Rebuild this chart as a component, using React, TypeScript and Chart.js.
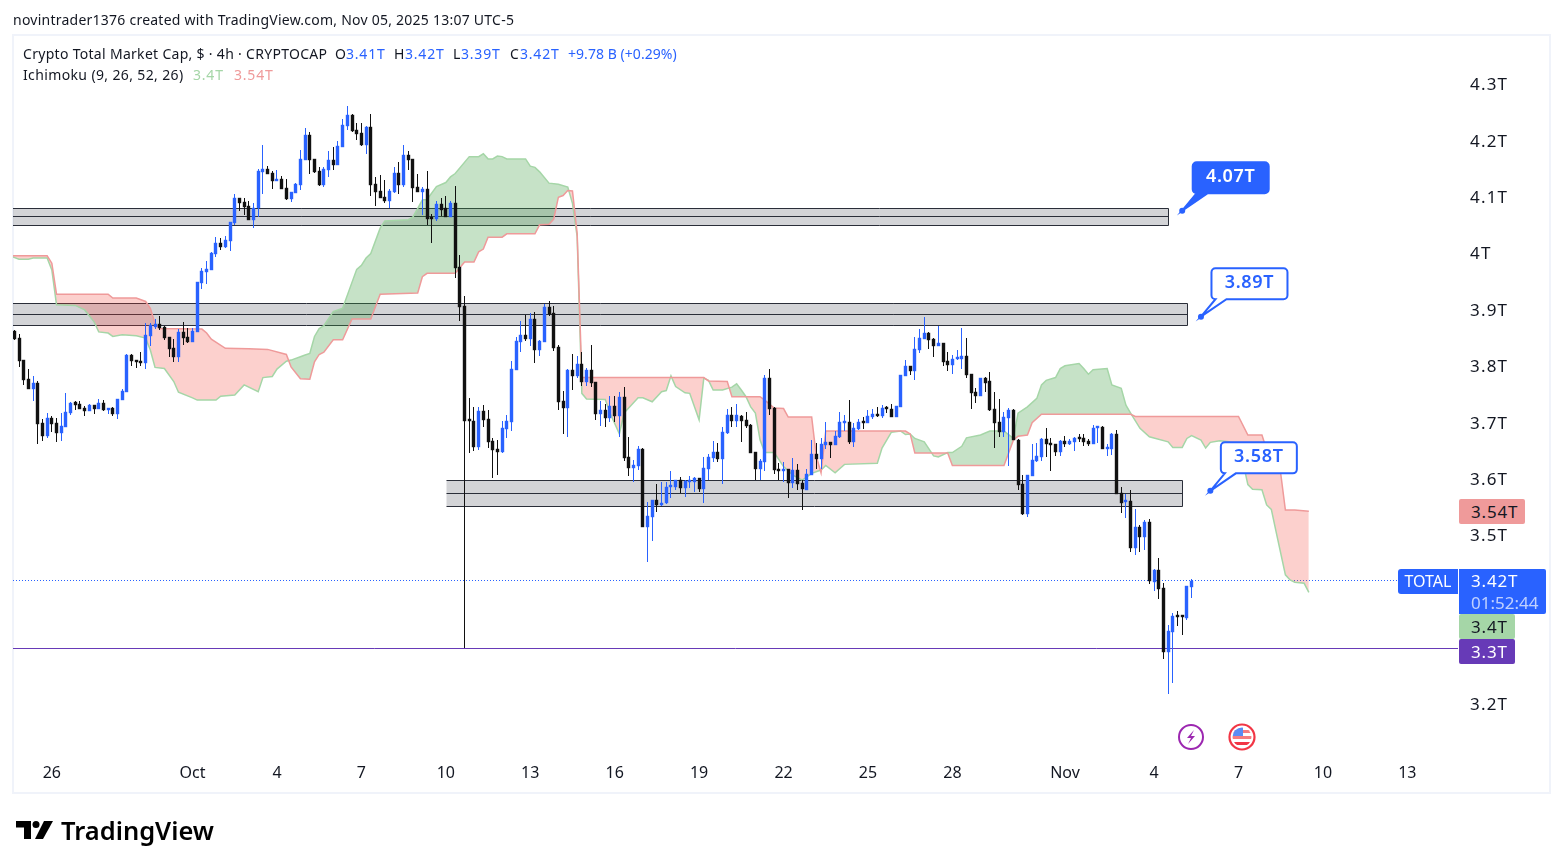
import React, { useEffect, useRef } from 'react';
import { Chart, registerables } from 'chart.js';

Chart.register(...registerables);

// 4h candles, values in billions
const candleOpen = [
  3862,3850,3811,3778,3760,3770,3699,3676,3708,3699,
  3682,3693,3718,3736,3733,3726,3721,3731,3724,3735,
  3723,3726,3715,3740,3754,3820,3811,3809,3806,3854,
  3870,3875,3870,3852,3833,3817,3861,3852,3843,3861,
  3948,3967,3971,3999,4019,4012,4022,4054,4099,4092,
  4084,4060,4081,4145,4150,4143,4129,4132,4116,4097,
  4107,4122,4166,4210,4168,4147,4122,4148,4166,4157,
  4189,4226,4246,4219,4214,4193,4225,4123,4111,4100,
  4093,4109,4143,4122,4175,4168,4118,4109,4115,4063,
  4061,4088,4080,4065,4090,3976,3907,3705,3703,3657,
  3721,3707,3668,3653,3648,3689,3701,3793,3843,3856,
  3848,3884,3829,3843,3905,3895,3834,3739,3726,3793,
  3783,3804,3772,3793,3772,3715,3723,3708,3730,3712,
  3746,3639,3620,3623,3653,3515,3533,3563,3554,3557,
  3586,3586,3598,3584,3595,3595,3602,3582,3618,3637,
  3648,3636,3682,3714,3703,3712,3705,3696,3648,3618,
  3630,3779,3726,3618,3614,3618,3593,3616,3593,3581,
  3607,3645,3636,3660,3666,3660,3675,3700,3701,3666,
  3689,3701,3700,3710,3715,3712,3726,3724,3710,3728,
  3783,3801,3792,3829,3848,3859,3848,3836,3841,3809,
  3802,3813,3813,3818,3786,3755,3747,3779,3774,3724,
  3701,3683,3708,3723,3669,3591,3538,3605,3632,3639,
  3671,3664,3662,3648,3668,3662,3666,3673,3673,3668,
  3662,3691,3692,3653,3653,3680,3575,3559,3561,3478,
  3515,3497,3524,3417,3439,3407,3293,3329,3357,3357,
  3354,3409,
];
const candleHigh = [
  3865,3857,3812,3795,3783,3774,3707,3718,3712,3708,
  3717,3753,3737,3738,3738,3730,3733,3731,3742,3740,
  3726,3728,3742,3760,3821,3822,3812,3825,3876,3876,
  3884,3889,3872,3852,3848,3866,3879,3868,3868,3950,
  3975,3987,4003,4029,4028,4031,4056,4106,4099,4099,
  4093,4090,4150,4193,4155,4147,4148,4138,4132,4109,
  4125,4184,4223,4216,4168,4154,4154,4182,4189,4200,
  4239,4262,4248,4232,4232,4226,4248,4136,4139,4131,
  4115,4154,4162,4193,4182,4168,4141,4118,4147,4071,
  4093,4099,4102,4093,4120,3997,3925,3743,3728,3728,
  3731,3723,3673,3669,3703,3714,3809,3852,3880,3891,
  3895,3896,3847,3911,3916,3907,3838,3756,3795,3822,
  3818,3825,3797,3838,3772,3739,3733,3747,3747,3755,
  3763,3675,3634,3659,3655,3559,3563,3591,3595,3595,
  3614,3598,3604,3598,3605,3604,3602,3639,3644,3668,
  3664,3692,3724,3728,3733,3714,3719,3698,3648,3636,
  3785,3795,3727,3629,3630,3618,3637,3627,3598,3618,
  3669,3664,3673,3701,3666,3685,3719,3714,3740,3700,
  3707,3710,3723,3724,3728,3731,3730,3733,3730,3785,
  3811,3801,3852,3866,3888,3861,3850,3872,3841,3825,
  3820,3829,3868,3850,3786,3762,3779,3781,3790,3755,
  3742,3719,3726,3724,3671,3607,3607,3662,3664,3673,
  3691,3673,3662,3669,3676,3671,3675,3680,3680,3671,
  3696,3694,3694,3662,3682,3687,3586,3574,3581,3547,
  3519,3527,3529,3440,3460,3416,3341,3362,3366,3357,
  3410,3423,
];
const candleLow = [
  3847,3798,3767,3760,3739,3663,3668,3673,3684,3665,
  3668,3693,3714,3723,3724,3711,3720,3715,3724,3720,
  3715,3712,3707,3740,3754,3801,3797,3801,3795,3836,
  3867,3864,3847,3817,3808,3808,3838,3841,3843,3861,
  3937,3946,3971,3994,4006,4010,4005,4051,4076,4068,
  4060,4045,4065,4106,4141,4115,4129,4115,4095,4092,
  4107,4113,4166,4141,4143,4120,4118,4136,4148,4157,
  4189,4219,4216,4201,4191,4177,4102,4084,4099,4090,
  4081,4107,4106,4118,4148,4092,4109,4068,4051,4019,
  4058,4067,4065,4065,3957,3880,3300,3647,3650,3652,
  3692,3655,3602,3607,3646,3673,3685,3793,3825,3845,
  3836,3806,3818,3843,3889,3827,3723,3680,3675,3758,
  3779,3765,3765,3763,3705,3694,3692,3701,3701,3675,
  3632,3605,3595,3616,3515,3453,3490,3542,3552,3556,
  3566,3581,3575,3568,3584,3577,3577,3558,3598,3630,
  3630,3591,3680,3692,3692,3666,3691,3646,3598,3598,
  3614,3714,3609,3598,3595,3566,3584,3581,3545,3581,
  3607,3618,3618,3653,3637,3660,3673,3685,3662,3657,
  3687,3689,3700,3707,3710,3708,3717,3710,3710,3728,
  3783,3785,3776,3824,3848,3831,3817,3836,3801,3792,
  3786,3811,3795,3779,3724,3735,3747,3755,3721,3655,
  3675,3675,3623,3669,3581,3536,3533,3605,3630,3632,
  3639,3614,3641,3641,3657,3660,3650,3666,3659,3659,
  3662,3664,3653,3641,3643,3574,3540,3531,3471,3465,
  3471,3474,3414,3401,3387,3281,3219,3238,3339,3323,
  3350,3389,
];
const candleClose = [
  3849,3810,3776,3760,3770,3698,3676,3708,3698,3682,
  3694,3719,3734,3731,3724,3721,3731,3724,3734,3723,
  3726,3715,3742,3756,3820,3809,3808,3805,3856,3873,
  3875,3868,3850,3831,3817,3861,3850,3843,3863,3950,
  3969,3973,4001,4019,4012,4024,4056,4099,4090,4083,
  4060,4081,4147,4150,4141,4129,4132,4115,4097,4109,
  4123,4168,4210,4166,4145,4122,4150,4166,4157,4191,
  4228,4246,4217,4212,4193,4225,4122,4109,4099,4093,
  4111,4143,4122,4175,4166,4116,4109,4115,4061,4061,
  4088,4077,4065,4090,3974,3905,3703,3703,3657,3721,
  3705,3666,3652,3648,3691,3703,3795,3845,3856,3848,
  3884,3829,3845,3905,3893,3833,3737,3726,3793,3783,
  3804,3772,3793,3770,3715,3723,3708,3730,3712,3746,
  3637,3620,3625,3653,3515,3535,3563,3554,3558,3586,
  3588,3598,3584,3597,3598,3602,3582,3620,3639,3648,
  3636,3683,3714,3703,3714,3703,3694,3646,3618,3632,
  3779,3724,3616,3614,3618,3593,3616,3591,3582,3609,
  3645,3636,3662,3666,3660,3676,3701,3701,3666,3691,
  3701,3700,3712,3715,3712,3726,3724,3710,3730,3785,
  3801,3792,3831,3850,3859,3847,3836,3841,3808,3802,
  3813,3815,3818,3785,3753,3747,3779,3770,3723,3700,
  3683,3710,3723,3669,3589,3538,3607,3634,3641,3671,
  3662,3660,3648,3668,3662,3668,3673,3671,3666,3662,
  3691,3692,3653,3655,3680,3574,3558,3561,3478,3515,
  3497,3524,3419,3439,3405,3293,3331,3357,3356,3355,
  3410,3419,
];

// Ichimoku cloud turning points: [bar number, value]
const leadingSpanA = [
  [0,3996],[2,3990],[4,3990],[5,3992],[8,3992],[9,3971],[10,3909],[14,3908],[16,3900],[18,3879],
  [19,3861],[21,3859],[22,3853],[24,3856],[27,3854],[29,3850],[30,3829],[31,3798],[33,3796],[35,3773],
  [36,3754],[39,3744],[40,3740],[44,3740],[45,3747],[48,3749],[50,3767],[53,3755],[54,3780],[56,3782],
  [57,3795],[59,3809],[60,3811],[62,3817],[63,3820],[64,3823],[65,3853],[66,3867],[67,3872],[69,3897],
  [71,3903],[74,3972],[75,3979],[76,3992],[77,4000],[79,4045],[80,4058],[85,4060],[86,4065],[88,4095],
  [89,4096],[91,4119],[93,4126],[94,4136],[95,4142],[98,4172],[100,4172],[101,4177],[102,4168],[103,4168],
  [104,4173],[105,4172],[106,4168],[110,4168],[111,4155],[112,4153],[113,4145],[115,4125],[117,4123],[119,4118],
  [120,4089],[121,4030],[122,3752],[123,3742],[127,3741],[128,3717],[130,3680],[131,3717],[134,3744],[135,3744],
  [137,3737],[139,3755],[140,3757],[141,3783],[142,3764],[144,3753],[145,3752],[147,3705],[148,3779],[149,3775],
  [150,3758],[152,3758],[154,3763],[155,3769],[156,3758],[157,3746],[158,3728],[159,3717],[160,3669],[161,3647],
  [163,3647],[165,3622],[167,3607],[169,3598],[171,3610],[173,3616],[174,3624],[176,3611],[178,3626],[185,3628],
  [186,3655],[188,3683],[190,3685],[191,3679],[192,3680],[193,3672],[195,3666],[197,3641],[198,3639],[200,3647],
  [201,3647],[203,3658],[204,3673],[207,3678],[209,3685],[212,3685],[214,3672],[215,3717],[217,3728],[219,3743],
  [220,3767],[221,3775],[223,3780],[224,3796],[225,3801],[228,3805],[229,3796],[230,3786],[231,3794],[234,3796],
  [235,3767],[237,3761],[238,3731],[239,3717],[241,3690],[243,3675],[247,3666],[248,3656],[250,3656],[251,3672],
  [252,3677],[254,3669],[255,3655],[256,3665],[258,3668],[260,3666],[262,3652],[263,3628],[264,3590],[265,3582],
  [267,3581],[268,3554],[269,3546],[270,3507],[272,3430],[273,3421],[274,3417],[276,3415],[277,3399],
];
const leadingSpanB = [
  [0,3996],[8,3996],[9,3983],[10,3928],[21,3928],[22,3921],[27,3921],[29,3915],[30,3903],[31,3876],
  [32,3867],[41,3866],[42,3859],[43,3848],[46,3832],[51,3831],[55,3830],[59,3821],[60,3799],[62,3778],
  [64,3777],[65,3808],[66,3821],[67,3825],[69,3847],[71,3847],[73,3884],[77,3884],[79,3928],[87,3930],
  [88,3959],[89,3965],[95,3965],[97,3985],[99,3985],[100,4003],[101,4008],[102,4029],[105,4029],[106,4035],
  [112,4035],[113,4051],[115,4052],[116,4061],[117,4100],[118,4103],[119,4112],[120,4111],[121,4036],[122,3780],
  [148,3780],[149,3774],[153,3773],[154,3746],[160,3746],[161,3740],[163,3726],[165,3725],[166,3710],[171,3710],
  [172,3640],[173,3611],[174,3685],[191,3685],[192,3680],[193,3646],[200,3646],[201,3624],[212,3624],[214,3669],
  [215,3676],[217,3678],[218,3700],[220,3715],[239,3715],[240,3711],[262,3711],[264,3678],[267,3678],[268,3652],
  [271,3610],[272,3545],[274,3545],[277,3543],
];

// support / resistance boxes
const zoneTop = [4081, 3912, 3598];
const zoneMid = [4066, 3892, 3575];
const zoneBottom = [4050, 3873, 3552];
const zoneStart = [0.72, 0.72, 93];
const zoneEnd = [247, 251, 250];

const lastPrice = 3420;
const levelPrice = 3300;

const calloutLabels = ['4.07T', '3.89T', '3.58T'];
const calloutBar = [250, 254, 256];
const calloutValue = [4076, 3888, 3579];
const calloutFilled = [true, false, false];

const yTicks = [4300, 4200, 4100, 4000, 3900, 3800, 3700, 3600, 3500, 3400, 3300, 3200];
const xTickBars = [9, 39, 57, 75, 93, 111, 129, 147, 165, 183, 201, 225, 244, 262, 280, 298];
const xTickLabels = ['26', 'Oct', '4', '7', '10', '13', '16', '19', '22', '25', '28', 'Nov', '4', '7', '10', '13'];

const BLUE = '#2962ff';
const BLACK = '#111111';
const INK = '#131722';
const FONT = '"Noto Sans", sans-serif';

const candleBars = candleOpen.map((_, k) => k + 1);
const candleColor = candleOpen.map((o, k) => (candleClose[k] >= o ? BLUE : BLACK));

const snap = (v: number) => Math.round(v) + 0.5;

const drawingsPlugin = {
  id: 'drawings',
  beforeDraw(chart: any) {
    chart.ctx.letterSpacing = '0px';
  },
  afterDatasetsUpdate(chart: any) {
    // candles sit on whole pixels like in the original
    chart.data.datasets.forEach((ds: any, i: number) => {
      if (ds.type !== 'bar') return;
      chart.getDatasetMeta(i).data.forEach((el: any) => {
        el.x = Math.round(el.x - 0.5) + 0.5;
        el.y = Math.round(el.y);
        el.base = Math.round(el.base);
      });
    });
  },
  beforeDatasetsDraw(chart: any) {
    const { ctx, scales: { x, y }, chartArea } = chart;
    ctx.save();
    zoneTop.forEach((top, k) => {
      const left = zoneStart[k] < 1 ? chartArea.left : snap(x.getPixelForValue(zoneStart[k]));
      const right = snap(x.getPixelForValue(zoneEnd[k]));
      const t = snap(y.getPixelForValue(top));
      const m = snap(y.getPixelForValue(zoneMid[k]));
      const b = snap(y.getPixelForValue(zoneBottom[k]));
      ctx.fillStyle = 'rgba(120,123,134,0.33)';
      ctx.fillRect(left, t, right - left, b - t);
      ctx.strokeStyle = '#2a2e39';
      ctx.lineWidth = 1;
      ctx.beginPath();
      ctx.moveTo(left, t); ctx.lineTo(right, t);
      ctx.moveTo(left, m); ctx.lineTo(right, m);
      ctx.moveTo(left, b); ctx.lineTo(right, b);
      ctx.moveTo(right, t); ctx.lineTo(right, b);
      ctx.stroke();
    });
    const py = snap(y.getPixelForValue(lastPrice));
    ctx.strokeStyle = BLUE;
    ctx.setLineDash([1, 2]);
    ctx.beginPath();
    ctx.moveTo(chartArea.left, py); ctx.lineTo(chartArea.right, py);
    ctx.stroke();
    ctx.setLineDash([]);
    const ly = snap(y.getPixelForValue(levelPrice));
    ctx.strokeStyle = '#673ab7';
    ctx.beginPath();
    ctx.moveTo(chartArea.left, ly); ctx.lineTo(chartArea.right, ly);
    ctx.stroke();
    ctx.restore();
  },
  afterDatasetsDraw(chart: any) {
    const { ctx, scales: { x, y } } = chart;
    ctx.save();
    calloutLabels.forEach((label, k) => {
      const ax = x.getPixelForValue(calloutBar[k]);
      const ay = y.getPixelForValue(calloutValue[k]);
      const l = ax + 10.5, r = l + 76, t = ay - 48.5, b = t + 31, rad = 4;
      ctx.beginPath();
      ctx.moveTo(l + rad, t);
      ctx.arcTo(r, t, r, b, rad);
      ctx.arcTo(r, b, l, b, rad);
      ctx.lineTo(l + 15, b);
      ctx.lineTo(ax, ay);
      ctx.lineTo(l + 4, b);
      ctx.arcTo(l, b, l, t, rad);
      ctx.arcTo(l, t, r, t, rad);
      ctx.closePath();
      ctx.fillStyle = calloutFilled[k] ? BLUE : '#ffffff';
      ctx.strokeStyle = BLUE;
      ctx.lineWidth = 2;
      ctx.fill();
      ctx.stroke();
      ctx.beginPath();
      ctx.arc(ax, ay, 3, 0, Math.PI * 2);
      ctx.fillStyle = BLUE;
      ctx.fill();
      ctx.font = `600 18px ${FONT}`;
      ctx.letterSpacing = '0.7px';
      ctx.textAlign = 'center';
      ctx.textBaseline = 'middle';
      ctx.fillStyle = calloutFilled[k] ? '#ffffff' : BLUE;
      ctx.fillText(label, (l + r) / 2, t + 15);
    });
    ctx.restore();
    // price scale labels (ticks z: 1) are drawn after this hook and run a little wider
    ctx.letterSpacing = '1.2px';
  },
};

function Label({ x, y, color = INK, spacing = 0.3, children }: any) {
  return (
    <div style={{ position: 'absolute', left: x, top: y, color, fontSize: 14, letterSpacing: spacing, lineHeight: '20px', whiteSpace: 'nowrap' }}>
      {children}
    </div>
  );
}

function Tag({ x, y, w, h, bg, color = INK, text }: any) {
  return (
    <div style={{ position: 'absolute', left: x, top: y, width: w, height: h, background: bg, borderRadius: 2, color, fontSize: 17, letterSpacing: 0.8, lineHeight: `${h}px`, paddingLeft: 12, boxSizing: 'border-box', whiteSpace: 'nowrap' }}>
      {text}
    </div>
  );
}

export default function App() {
  const canvasRef = useRef<HTMLCanvasElement>(null);

  useEffect(() => {
    document.body.style.margin = '0';
    document.body.style.overflow = 'hidden';
    const ctx = canvasRef.current?.getContext('2d');
    if (!ctx) return;

    const chart = new Chart(ctx, {
      type: 'bar',
      plugins: [drawingsPlugin],
      data: {
        datasets: [
          {
            type: 'line',
            label: 'Leading Span A',
            data: leadingSpanA.map(([bar, v]) => ({ x: bar, y: v })),
            borderColor: '#a5d6a7',
            borderWidth: 1.5,
            pointRadius: 0,
            fill: { target: 1, above: 'rgba(67,160,71,0.3)', below: 'rgba(244,67,54,0.25)' },
            order: 6,
          },
          {
            type: 'line',
            label: 'Leading Span B',
            data: leadingSpanB.map(([bar, v]) => ({ x: bar, y: v })),
            borderColor: '#ef9a9a',
            borderWidth: 1.5,
            pointRadius: 0,
            fill: false,
            order: 5,
          },
          {
            type: 'bar',
            label: 'Wicks',
            data: candleBars.map((bar, k) => ({ x: bar, y: [candleLow[k], candleHigh[k]] })),
            backgroundColor: candleColor,
            barThickness: 1,
            inflateAmount: 0,
            grouped: false,
            order: 2,
          },
          {
            type: 'bar',
            label: 'Bodies',
            data: candleBars.map((bar, k) => ({ x: bar, y: [candleOpen[k], candleClose[k]] })),
            backgroundColor: candleColor,
            barThickness: 3,
            inflateAmount: 0.2,
            minBarLength: 2,
            grouped: false,
            order: 1,
          },
        ] as any,
      },
      options: {
        responsive: false,
        animation: false,
        devicePixelRatio: 1,
        layout: { padding: { left: 13, top: 35, right: 13, bottom: 75 } },
        plugins: { legend: { display: false }, tooltip: { enabled: false } },
        scales: {
          x: {
            type: 'linear',
            offset: false,
            min: 0.72,
            max: 308.8,
            grid: { display: false, drawTicks: false },
            border: { display: false },
            afterBuildTicks: (axis: any) => { axis.ticks = xTickBars.map((value) => ({ value })); },
            afterFit: (axis: any) => { axis.height = 36; },
            ticks: {
              autoSkip: false,
              maxRotation: 0,
              padding: 7,
              color: INK,
              font: { family: FONT, size: 16 },
              callback: (value: any) => xTickLabels[xTickBars.indexOf(value)],
            },
          },
          y: {
            type: 'linear',
            position: 'right',
            min: 3106.8,
            max: 4387.8,
            grid: { display: false, drawTicks: false },
            border: { display: false },
            afterBuildTicks: (axis: any) => { axis.ticks = yTicks.map((value) => ({ value })); },
            afterFit: (axis: any) => { axis.width = 92; },
            ticks: {
              autoSkip: false,
              padding: 12,
              z: 1,
              labelOffset: 1,
              color: INK,
              font: { family: FONT, size: 17 },
              callback: (value: any) => `${value / 1000}T`,
            },
          },
        },
      },
    } as any);

    return () => chart.destroy();
  }, []);

  return (
    <div style={{ position: 'relative', width: 1563, height: 868, background: '#fff', fontFamily: FONT, overflow: 'hidden' }}>
      <div style={{ position: 'absolute', left: 12, top: 34, width: 1535, height: 756, border: '2px solid #f0f3fa' }} />
      <canvas ref={canvasRef} width={1563} height={868} style={{ position: 'absolute', left: 0, top: 0 }} />

      <Label x={13} y={10} spacing={0.24}>novintrader1376 created with TradingView.com, Nov 05, 2025 13:07 UTC-5</Label>

      <Label x={23} y={44}>Crypto Total Market Cap, $ · 4h · CRYPTOCAP</Label>
      <Label x={335} y={44}>O</Label>
      <Label x={346} y={44} color={BLUE} spacing={0.8}>3.41T</Label>
      <Label x={394} y={44}>H</Label>
      <Label x={405} y={44} color={BLUE} spacing={0.8}>3.42T</Label>
      <Label x={453} y={44}>L</Label>
      <Label x={461} y={44} color={BLUE} spacing={0.8}>3.39T</Label>
      <Label x={510} y={44}>C</Label>
      <Label x={520} y={44} color={BLUE} spacing={0.8}>3.42T</Label>
      <Label x={568} y={44} color={BLUE} spacing={0.05}>+9.78 B (+0.29%)</Label>
      <Label x={23} y={65} spacing={0.37}>Ichimoku (9, 26, 52, 26)</Label>
      <Label x={193} y={65} color="#a5d6a7" spacing={0.8}>3.4T</Label>
      <Label x={234} y={65} color="#ef9a9a" spacing={0.8}>3.54T</Label>

      <Tag x={1459} y={499} w={66} h={25} bg="#ef9a9a" text="3.54T" />
      <div style={{ position: 'absolute', left: 1398, top: 569, width: 60, height: 25, background: BLUE, borderRadius: '3px 0 0 3px', color: '#fff', fontSize: 16, lineHeight: '25px', textAlign: 'center' }}>TOTAL</div>
      <div style={{ position: 'absolute', left: 1459, top: 569, width: 87, height: 45, background: BLUE, borderRadius: '0 2px 2px 0', color: '#fff', fontSize: 17, paddingLeft: 12, boxSizing: 'border-box', lineHeight: '22px', paddingTop: 1 }}>
        <div style={{ letterSpacing: 0.8 }}>3.42T</div>
        <div style={{ color: 'rgba(255,255,255,0.7)' }}>01:52:44</div>
      </div>
      <Tag x={1459} y={614} w={56} h={25} bg="#a5d6a7" text="3.4T" />
      <Tag x={1459} y={639} w={56} h={25} bg="#673ab7" color="#fff" text="3.3T" />

      <svg width={90} height={34} style={{ position: 'absolute', left: 1176, top: 720 }}>
        <circle cx={15} cy={17} r={12} fill="#fff" stroke="#9c27b0" strokeWidth={2} />
        <path d="M18 10 L11 18 L15 18 L12 24 L19 16 L15 16 Z" fill="#9c27b0" />
        <circle cx={66} cy={17} r={12.5} fill="#fff" stroke="#f23645" strokeWidth={2.2} />
        <clipPath id="flag"><circle cx={66} cy={17} r={9.5} /></clipPath>
        <g clipPath="url(#flag)">
          <rect x={56} y={7} width={20} height={20} fill="#fff" />
          <rect x={56} y={10} width={20} height={3} fill="#f77c80" />
          <rect x={56} y={16} width={20} height={3} fill="#f77c80" />
          <rect x={56} y={22} width={20} height={3} fill="#f23645" />
          <rect x={56} y={7} width={11} height={9} fill="#5b8cf5" />
        </g>
      </svg>

      <svg width={40} height={20} style={{ position: 'absolute', left: 15, top: 820 }}>
        <path d="M1 1 H16 V19 H9 V7.5 H1 Z" fill="#000" />
        <circle cx={21} cy={4.5} r={3.5} fill="#000" />
        <path d="M29 1 H38 L28 19 H20 Z" fill="#000" />
      </svg>
      <div style={{ position: 'absolute', left: 61, top: 813, fontSize: 25.5, fontWeight: 600, color: '#000', lineHeight: '34px', whiteSpace: 'nowrap' }}>TradingView</div>
    </div>
  );
}
